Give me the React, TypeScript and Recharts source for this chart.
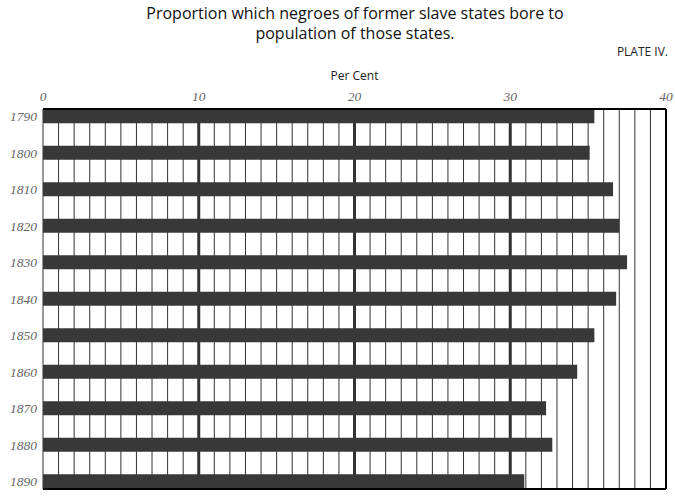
import React from "react";
import {
  BarChart,
  Bar,
  XAxis,
  YAxis,
  CartesianGrid,
} from "recharts";

const YEARS = [1790, 1800, 1810, 1820, 1830, 1840, 1850, 1860, 1870, 1880, 1890];
const PERCENTS = [35.4, 35.1, 36.6, 37.0, 37.5, 36.8, 35.4, 34.3, 32.3, 32.7, 30.9];
// one thin rule per per-cent, labels only every ten
const MINOR_TICKS = Array.from({ length: 41 }, (_, i) => i);
const MAJOR_RULES = [10, 20, 30];
const EDGE_RULES = [40];
const X_MIN = 0;
const X_MAX = 40;

const data = YEARS.map((year, i) => ({ year, pct: PERCENTS[i] }));

const W = 675;
const H = 497;
const INK = "#333";

const tickFont = {
  fill: "#666",
  fontSize: 13.5,
  fontStyle: "italic",
  fontFamily: "'Liberation Serif', serif",
};

// place rules through the x axis scale (falls back to the plot offset)
function rulesAt(values: number[]) {
  return ({ xAxis, offset }: any) => {
    const s = xAxis?.scale;
    if (typeof s === "function") return values.map((v) => s(v));
    if (s && typeof s.map === "function") return values.map((v) => s.map(v));
    return values.map(
      (v) => offset.left + ((v - X_MIN) / (X_MAX - X_MIN)) * offset.width
    );
  };
}

export default function App() {
  return (
    <div
      style={{
        position: "absolute",
        top: 0,
        left: 0,
        width: W,
        height: H,
        background: "#fff",
        fontFamily: "'Open Sans', sans-serif",
        color: "#222",
      }}
    >
      <div
        style={{
          position: "absolute",
          top: 3,
          left: 0,
          width: 710,
          textAlign: "center",
          fontSize: 16,
          color: "#111",
          lineHeight: "20px",
        }}
      >
        Proportion which negroes of former slave states bore to
        <br />
        population of those states.
      </div>
      <div style={{ position: "absolute", top: 43, right: 7, fontSize: 12 }}>
        PLATE IV.
      </div>
      <div
        style={{
          position: "absolute",
          top: 67,
          left: 43,
          width: 623,
          textAlign: "center",
          fontSize: 12,
        }}
      >
        Per Cent
      </div>
      <BarChart
        width={W}
        height={H}
        data={data}
        layout="vertical"
        margin={{ top: 95, right: 9, bottom: 7, left: 0 }}
      >
        <CartesianGrid horizontal={false} stroke={INK} strokeWidth={1} />
        <CartesianGrid
          horizontal={false}
          stroke={INK}
          strokeWidth={3}
          verticalCoordinatesGenerator={rulesAt(MAJOR_RULES)}
        />
        <CartesianGrid
          horizontal={false}
          stroke="#000"
          strokeWidth={2}
          verticalCoordinatesGenerator={rulesAt(EDGE_RULES)}
        />
        <XAxis
          type="number"
          orientation="top"
          domain={[X_MIN, X_MAX]}
          ticks={MINOR_TICKS}
          interval={0}
          height={14}
          tickLine={false}
          axisLine={{ stroke: "#000", strokeWidth: 2 }}
          tick={tickFont}
          tickMargin={2}
          tickFormatter={(v: number) => (v % 10 === 0 ? String(v) : "")}
        />
        <XAxis
          xAxisId="edge"
          type="number"
          orientation="bottom"
          domain={[X_MIN, X_MAX]}
          height={1}
          tick={false}
          tickLine={false}
          axisLine={{ stroke: "#000", strokeWidth: 2 }}
        />
        <YAxis
          type="number"
          dataKey="year"
          domain={[1787.95, 1892.05]}
          ticks={YEARS}
          interval={0}
          width={43}
          tickLine={false}
          axisLine={false}
          tick={tickFont}
          tickMargin={0}
        />
        <Bar
          dataKey="pct"
          fill="#383838"
          barSize={14}
          isAnimationActive={false}
        />
      </BarChart>
    </div>
  );
}
